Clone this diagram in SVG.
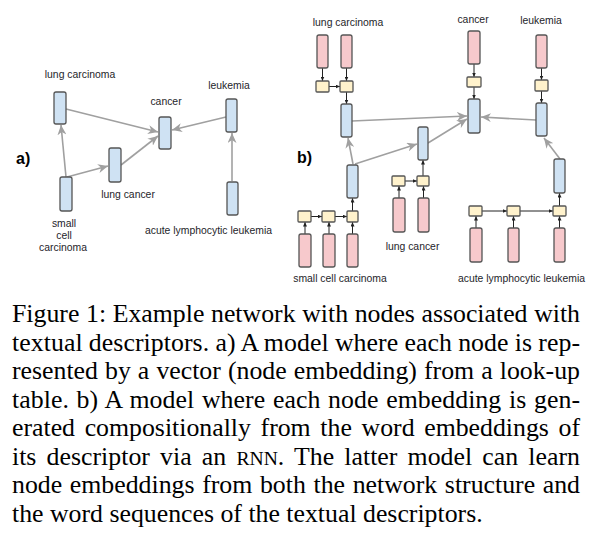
<svg xmlns="http://www.w3.org/2000/svg" width="591" height="553" viewBox="0 0 591 553">
<style>
.lbl{font-family:"Liberation Sans",Arial,sans-serif;font-size:10.4px;fill:#1e1e2a;text-anchor:middle}
.tag{font-family:"Liberation Sans",Arial,sans-serif;font-size:16px;font-weight:bold;fill:#000}
.cap{font-family:"Liberation Serif","Times New Roman",serif;font-size:25.8px;fill:#000}
.blue{fill:#cfe2f3;stroke:#555;stroke-width:1.3}
.pink{fill:#f7c9cc;stroke:#555;stroke-width:1.3}
.yel{fill:#fff2cc;stroke:#555;stroke-width:1.3}
.g{stroke:#a0a0a0;stroke-width:1.6;fill:none;marker-end:url(#ga)}
.k{stroke:#222;stroke-width:1;fill:none;marker-end:url(#ka)}
</style>
<defs>
<marker id="ga" markerUnits="userSpaceOnUse" markerWidth="11" markerHeight="9" refX="10" refY="4.5" orient="auto">
<path d="M0,0 L10,4.5 L0,9 L3,4.5 z" fill="#a0a0a0"/>
</marker>
<marker id="ka" markerUnits="userSpaceOnUse" markerWidth="5" markerHeight="4" refX="4.5" refY="2" orient="auto">
<path d="M0,0 L4.5,2 L0,4 z" fill="#222"/>
</marker>
</defs>

<g id="connectors">
<!-- part a -->
<line class="g" x1="66" y1="177" x2="61" y2="125"/>
<line class="g" x1="67" y1="177" x2="108" y2="166"/>
<line class="g" x1="66" y1="109" x2="158" y2="132"/>
<line class="g" x1="121" y1="165" x2="158" y2="136"/>
<line class="g" x1="226" y1="117" x2="172" y2="130"/>
<line class="g" x1="232" y1="181" x2="232" y2="133"/>
<!-- part b gray -->
<line class="g" x1="353" y1="164" x2="348" y2="138"/>
<line class="g" x1="355" y1="164" x2="417" y2="144"/>
<line class="g" x1="352" y1="121" x2="467" y2="116"/>
<line class="g" x1="428" y1="143" x2="467" y2="119"/>
<line class="g" x1="536" y1="120" x2="481" y2="117"/>
<line class="g" x1="560" y1="159" x2="544" y2="138"/>
<!-- part b black: lung carcinoma -->
<line class="k" x1="322.5" y1="68" x2="322.5" y2="81"/>
<line class="k" x1="346.5" y1="68" x2="346.5" y2="81"/>
<line class="k" x1="329" y1="86.5" x2="340" y2="86.5"/>
<line class="k" x1="346.5" y1="92" x2="346.5" y2="104"/>
<!-- cancer -->
<line class="k" x1="474" y1="64" x2="474" y2="77"/>
<line class="k" x1="474" y1="87" x2="474" y2="99"/>
<!-- leukemia -->
<line class="k" x1="541.5" y1="68" x2="541.5" y2="80"/>
<line class="k" x1="541.5" y1="91" x2="541.5" y2="103"/>
<!-- lung cancer -->
<line class="k" x1="399" y1="198" x2="399" y2="186"/>
<line class="k" x1="423.5" y1="198" x2="423.5" y2="186"/>
<line class="k" x1="405" y1="181" x2="417" y2="181"/>
<line class="k" x1="423" y1="176" x2="423" y2="160"/>
<!-- small cell carcinoma -->
<line class="k" x1="305" y1="234" x2="305" y2="222"/>
<line class="k" x1="329" y1="234" x2="329" y2="222"/>
<line class="k" x1="352.5" y1="234" x2="352.5" y2="222"/>
<line class="k" x1="311" y1="216.5" x2="322" y2="216.5"/>
<line class="k" x1="335" y1="216.5" x2="347" y2="216.5"/>
<line class="k" x1="352.5" y1="211" x2="352.5" y2="198"/>
<!-- acute lymphocytic leukemia -->
<line class="k" x1="476" y1="228" x2="476" y2="216"/>
<line class="k" x1="513.5" y1="228" x2="513.5" y2="216"/>
<line class="k" x1="559.5" y1="228" x2="559.5" y2="216"/>
<line class="k" x1="482" y1="211" x2="507" y2="211"/>
<line class="k" x1="520" y1="211" x2="553" y2="211"/>
<line class="k" x1="559.5" y1="206" x2="559.5" y2="193"/>
</g>

<text class="tag" x="16" y="164">a)</text>
<text class="tag" x="297" y="163">b)</text>

<!-- part a nodes -->
<g id="a-lung-carcinoma">
<rect class="blue" x="54" y="92" width="12" height="32" rx="2"/>
<text class="lbl" x="80" y="78">lung carcinoma</text>
</g>
<g id="a-cancer">
<rect class="blue" x="159" y="117" width="12" height="32" rx="2"/>
<text class="lbl" x="166" y="105">cancer</text>
</g>
<g id="a-leukemia">
<rect class="blue" x="226" y="99" width="11" height="33" rx="2"/>
<text class="lbl" x="229" y="89">leukemia</text>
</g>
<g id="a-lung-cancer">
<rect class="blue" x="109" y="148" width="12" height="34" rx="2"/>
<text class="lbl" x="128" y="198">lung cancer</text>
</g>
<g id="a-small-cell-carcinoma">
<rect class="blue" x="60" y="177" width="12" height="34" rx="2"/>
<text class="lbl" x="64" y="227">small</text>
<text class="lbl" x="64" y="239">cell</text>
<text class="lbl" x="63" y="251">carcinoma</text>
</g>
<g id="a-acute-lymphocytic-leukemia">
<rect class="blue" x="227" y="182" width="11" height="33" rx="2"/>
<text class="lbl" x="208.5" y="234">acute lymphocytic leukemia</text>
</g>

<!-- part b nodes -->
<g id="b-lung-carcinoma">
<text class="lbl" x="348" y="26">lung carcinoma</text>
<rect class="pink" x="317" y="35" width="11" height="33" rx="2"/>
<rect class="pink" x="341" y="35" width="11" height="33" rx="2"/>
<rect class="yel" x="316" y="81" width="13" height="11" rx="1"/>
<rect class="yel" x="340" y="81" width="13" height="11" rx="1"/>
<rect class="blue" x="341" y="104" width="11" height="33" rx="2"/>
</g>
<g id="b-cancer">
<text class="lbl" x="473" y="23">cancer</text>
<rect class="pink" x="468" y="31" width="12" height="33" rx="2"/>
<rect class="yel" x="467" y="77" width="14" height="10" rx="1"/>
<rect class="blue" x="468" y="99" width="12" height="34" rx="2"/>
</g>
<g id="b-leukemia">
<text class="lbl" x="541" y="24">leukemia</text>
<rect class="pink" x="536" y="35" width="11" height="33" rx="2"/>
<rect class="yel" x="535" y="80" width="13" height="11" rx="1"/>
<rect class="blue" x="536" y="103" width="11" height="33" rx="2"/>
</g>
<g id="b-lung-cancer">
<rect class="blue" x="418" y="127" width="10" height="33" rx="2"/>
<rect class="yel" x="392" y="176" width="13" height="10" rx="1"/>
<rect class="yel" x="417" y="176" width="12" height="10" rx="1"/>
<rect class="pink" x="393" y="198" width="12" height="34" rx="2"/>
<rect class="pink" x="418" y="198" width="11" height="34" rx="2"/>
<text class="lbl" x="412.5" y="250">lung cancer</text>
</g>
<g id="b-small-cell-carcinoma">
<rect class="blue" x="347" y="165" width="11" height="33" rx="2"/>
<rect class="yel" x="298" y="211" width="13" height="11" rx="1"/>
<rect class="yel" x="322" y="211" width="13" height="11" rx="1"/>
<rect class="yel" x="347" y="211" width="11" height="11" rx="1"/>
<rect class="pink" x="299" y="234" width="12" height="33" rx="2"/>
<rect class="pink" x="323" y="234" width="12" height="33" rx="2"/>
<rect class="pink" x="347" y="234" width="11" height="33" rx="2"/>
<text class="lbl" x="340" y="282">small cell carcinoma</text>
</g>
<g id="b-acute-lymphocytic-leukemia">
<rect class="blue" x="554" y="159" width="11" height="34" rx="2"/>
<rect class="yel" x="469" y="206" width="13" height="10" rx="1"/>
<rect class="yel" x="507" y="206" width="13" height="10" rx="1"/>
<rect class="yel" x="553" y="206" width="13" height="10" rx="1"/>
<rect class="pink" x="470" y="228" width="12" height="34" rx="2"/>
<rect class="pink" x="508" y="228" width="11" height="34" rx="2"/>
<rect class="pink" x="554" y="228" width="11" height="34" rx="2"/>
<text class="lbl" x="521.5" y="282">acute lymphocytic leukemia</text>
</g>

<!-- caption -->
<g id="caption">
<text class="cap" x="12" y="322" word-spacing="0.2" textLength="568" lengthAdjust="spacing">Figure 1: Example network with nodes associated with</text>
<text class="cap" x="12" y="350.5" word-spacing="-0.3" textLength="568" lengthAdjust="spacing">textual descriptors. a) A model where each node is rep-</text>
<text class="cap" x="12" y="379" word-spacing="0.6" textLength="568" lengthAdjust="spacing">resented by a vector (node embedding) from a look-up</text>
<text class="cap" x="12" y="407.5" word-spacing="1.2" textLength="568" lengthAdjust="spacing">table. b) A model where each node embedding is gen-</text>
<text class="cap" x="12" y="436" word-spacing="3.2" textLength="568" lengthAdjust="spacing">erated compositionally from the word embeddings of</text>
<text class="cap" x="12" y="464.5" word-spacing="3.7" textLength="568" lengthAdjust="spacing">its descriptor via an <tspan font-size="19.6">RNN</tspan>. The latter model can learn</text>
<text class="cap" x="12" y="493" word-spacing="1.2" textLength="568" lengthAdjust="spacing">node embeddings from both the network structure and</text>
<text class="cap" x="12" y="521.5">the word sequences of the textual descriptors.</text>
</g>
</svg>
